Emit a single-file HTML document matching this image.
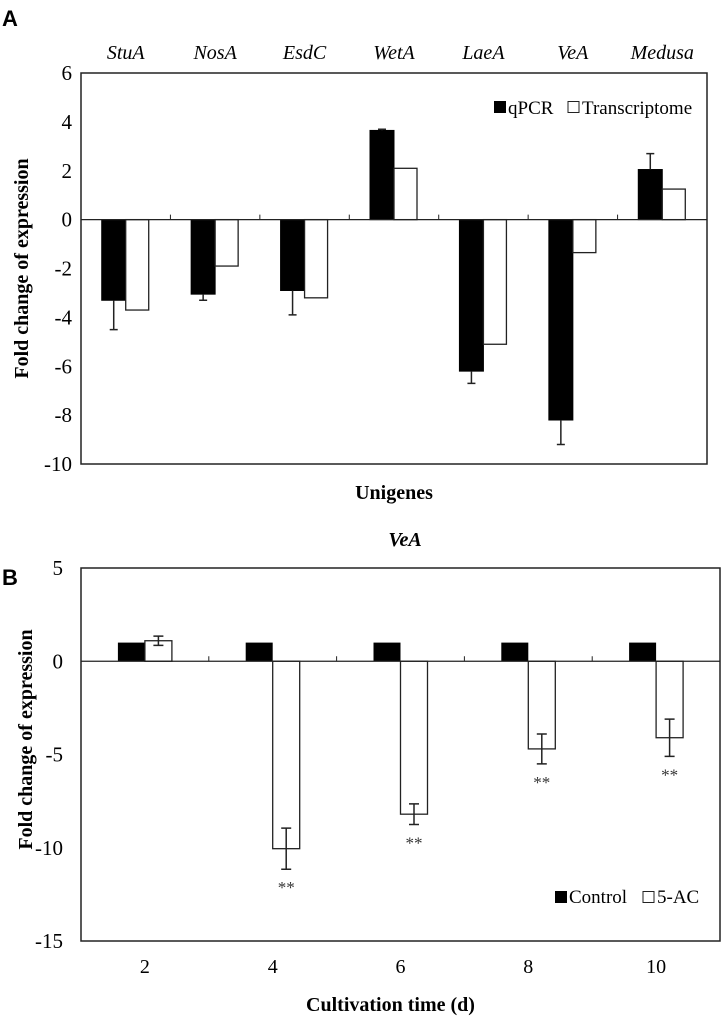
<!DOCTYPE html>
<html><head><meta charset="utf-8"><style>
body{margin:0;background:#fff}
svg{display:block;font-family:"Liberation Serif",serif}
</style></head><body>
<svg id="c" width="726" height="1020">
<text x="2" y="26" font-family="Liberation Sans" font-weight="bold" font-size="22">A</text>
<text x="2" y="585" font-family="Liberation Sans" font-weight="bold" font-size="22">B</text>
</svg>
<script>
const genes=["StuA","NosA","EsdC","WetA","LaeA","VeA","Medusa"];
const qpcr=[-3.3,-3.05,-2.9,3.65,-6.2,-8.2,2.05];
const qpcrErr=[1.2,0.25,1.0,0.05,0.5,1.0,0.65];
const transcriptome=[-3.7,-1.9,-3.2,2.1,-5.1,-1.35,1.25];
const ticksA=[6,4,2,0,-2,-4,-6,-8,-10];
const days=["2","4","6","8","10"];
const control=[1,1,1,1,1];
const ac5=[1.1,-10.05,-8.2,-4.7,-4.1];
const ac5Err=[0.25,1.1,0.55,0.8,1.0];
const ticksB=[5,0,-5,-10,-15];
const NS="http://www.w3.org/2000/svg";
const svg=document.getElementById('c');
function mk(t,a,txt){const e=document.createElementNS(NS,t);for(const k in a)e.setAttribute(k,a[k]);if(txt!=null)e.textContent=txt;svg.appendChild(e);return e;}
// Panel A
const A={l:81,r:707,t:73,b:464,min:-10,max:6};
const yA=v=>A.t+(A.max-v)/(A.max-A.min)*(A.b-A.t);
const cwA=(A.r-A.l)/genes.length;
let e;
e=mk('rect',{x:A.l,y:A.t,width:A.r-A.l,height:A.b-A.t,fill:'none',stroke:'#222','stroke-width':1.5});


ticksA.forEach(v=>{
 e=mk('text',{x:A.l-9,y:yA(v)+7,'text-anchor':'end','font-size':21},v);
 
 
});
genes.forEach((g,i)=>{
 const cx=A.l+cwA*(i+0.5);
 e=mk('text',{x:cx,y:59,'text-anchor':'middle','font-size':20,'font-style':'italic'},g);
 
 
 if(i>0){e=mk('line',{x1:A.l+cwA*i,x2:A.l+cwA*i,y1:yA(0)-5,y2:yA(0),stroke:'#222'});
 
 }
 const y0=yA(0),y1=yA(qpcr[i]);
 e=mk('rect',{x:cx-24,y:Math.min(y0,y1),width:24,height:Math.abs(y1-y0),fill:'#000',stroke:'#000'});
 
 
 const y2=yA(transcriptome[i]);
 e=mk('rect',{x:cx,y:Math.min(y0,y2),width:23,height:Math.abs(y2-y0),fill:'#fff',stroke:'#222','stroke-width':1.3});
 
 
 const s=Math.sign(qpcr[i]),ye=yA(qpcr[i]+s*qpcrErr[i]),ex=cx-12;
 e=mk('path',{d:`M${ex},${y1}V${ye}M${ex-4},${ye}H${ex+4}`,stroke:'#222','stroke-width':1.5,fill:'none'});
 
 
});
e=mk('line',{x1:A.l,x2:A.r,y1:yA(0),y2:yA(0),stroke:'#222','stroke-width':1.3});


e=mk('text',{x:0,y:0,transform:`translate(28,${(A.t+A.b)/2}) rotate(-90)`,'text-anchor':'middle','font-size':20,'font-weight':'bold'},'Fold change of expression');


e=mk('text',{x:(A.l+A.r)/2,y:499,'text-anchor':'middle','font-size':20,'font-weight':'bold'},'Unigenes');


// legend A
e=mk('rect',{x:494,y:101,width:12,height:12,fill:'#000'});


e=mk('text',{x:508,y:114,'font-size':19},'qPCR');


e=mk('rect',{x:568,y:101.5,width:11,height:11,fill:'#fff',stroke:'#222'});


e=mk('text',{x:582,y:114,'font-size':19},'Transcriptome');


// Panel B
const B={l:81,r:720,t:568,b:941,min:-15,max:5};
const yB=v=>B.t+(B.max-v)/(B.max-B.min)*(B.b-B.t);
const cwB=(B.r-B.l)/days.length;
e=mk('rect',{x:B.l,y:B.t,width:B.r-B.l,height:B.b-B.t,fill:'none',stroke:'#222','stroke-width':1.5});


ticksB.forEach(v=>{
 e=mk('text',{x:B.l-18,y:yB(v)+7,'text-anchor':'end','font-size':21},v);
 
 
});
days.forEach((d,i)=>{
 const cx=B.l+cwB*(i+0.5);
 e=mk('text',{x:cx,y:973,'text-anchor':'middle','font-size':20},d);
 
 
 if(i>0){e=mk('line',{x1:B.l+cwB*i,x2:B.l+cwB*i,y1:yB(0)-5,y2:yB(0),stroke:'#222'});
 
 }
 const y0=yB(0),y1=yB(control[i]);
 e=mk('rect',{x:cx-27,y:Math.min(y0,y1),width:27,height:Math.abs(y1-y0),fill:'#000'});
 
 
 const y2=yB(ac5[i]);
 e=mk('rect',{x:cx,y:Math.min(y0,y2),width:27,height:Math.abs(y2-y0),fill:'#fff',stroke:'#222','stroke-width':1.3});
 
 
 const ex=cx+13.5,ya=yB(ac5[i]+ac5Err[i]),yb=yB(ac5[i]-ac5Err[i]);
 e=mk('path',{d:`M${ex},${ya}V${yb}M${ex-5},${ya}H${ex+5}M${ex-5},${yb}H${ex+5}`,stroke:'#222','stroke-width':1.5,fill:'none'});
 
 
 if(ac5[i]<0){e=mk('text',{x:ex,y:yb+24,'text-anchor':'middle','font-size':17,fill:'#333'},'**');
 
 }
});
e=mk('line',{x1:B.l,x2:B.r,y1:yB(0),y2:yB(0),stroke:'#222','stroke-width':1.3});


e=mk('text',{x:0,y:0,transform:`translate(32,${(B.t+B.b)/2-15}) rotate(-90)`,'text-anchor':'middle','font-size':20,'font-weight':'bold'},'Fold change of expression');


e=mk('text',{x:405,y:546,'text-anchor':'middle','font-size':20,'font-weight':'bold','font-style':'italic'},'VeA');


e=mk('text',{x:(B.l+B.r)/2-10,y:1011,'text-anchor':'middle','font-size':20,'font-weight':'bold'},'Cultivation time (d)');


e=mk('rect',{x:555,y:891,width:12,height:12,fill:'#000'});


e=mk('text',{x:569,y:903,'font-size':19},'Control');


e=mk('rect',{x:643,y:891.5,width:11,height:11,fill:'#fff',stroke:'#222'});


e=mk('text',{x:657,y:903,'font-size':19},'5-AC');


</script>
</body></html>
